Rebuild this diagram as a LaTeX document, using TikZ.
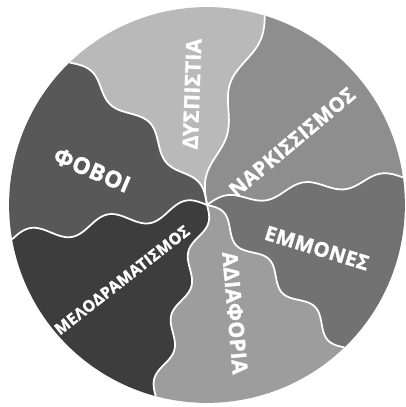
\documentclass[tikz,border=0pt]{standalone}
\usepackage{fontspec}
\setmainfont{Open Sans}
\usepackage{tikz}

\definecolor{fovoi}{HTML}{585858}
\definecolor{dyspistia}{HTML}{B9B9B9}
\definecolor{narkissismos}{HTML}{8E8E8E}
\definecolor{emmones}{HTML}{727272}
\definecolor{adiaforia}{HTML}{9D9D9D}
\definecolor{melodrama}{HTML}{3D3D3D}

% wavy seam from the hub: domain, angle, wave amplitude, half waves, bow
\newcommand{\seam}[5]{%
  -- plot[domain=#1, samples=90, smooth, variable=\t]
    ({\t*198*cos(#2)-(#3*sin(#4*180*\t)+#5*sin(180*\t))*sin(#2)},
     {\t*198*sin(#2)+(#3*sin(#4*180*\t)+#5*sin(180*\t))*cos(#2)})}

\begin{document}
\begin{tikzpicture}
        [ scale=0.02
        , tag/.style={text=white, font=\fontsize{#1}{#1}\selectfont\bfseries\addfontfeature{LetterSpace=2,FakeBold=1.5}}
        , seamline/.style={draw=white, line width=1pt}
        ]
        \useasboundingbox (-207,-202) rectangle (199,205);

        % sectors
        \fill[narkissismos] (0,0) \seam{0:1}{8}{6}{5}{3}
            arc[start angle=8, end angle=73, radius=198] \seam{1:0}{73}{6}{4}{8} -- cycle;
        \fill[dyspistia] (0,0) \seam{0:1}{73}{6}{4}{8}
            arc[start angle=73, end angle=134, radius=198] \seam{1:0}{134}{-7}{5}{-9} -- cycle;
        \fill[fovoi] (0,0) \seam{0:1}{134}{-7}{5}{-9}
            arc[start angle=134, end angle=190, radius=198] \seam{1:0}{190}{-8}{5}{0} -- cycle;
        \fill[melodrama] (0,0) \seam{0:1}{190}{-8}{5}{0}
            arc[start angle=190, end angle=255, radius=198] \seam{1:0}{255}{6}{6}{0} -- cycle;
        \fill[adiaforia] (0,0) \seam{0:1}{255}{6}{6}{0}
            arc[start angle=255, end angle=314, radius=198] \seam{1:0}{314}{7}{6}{0} -- cycle;
        \fill[emmones] (0,0) \seam{0:1}{314}{7}{6}{0}
            arc[start angle=314, end angle=368, radius=198] \seam{1:0}{8}{6}{5}{3} -- cycle;

        % white seams
        \foreach \ang/\amp/\hw/\bw in {8/6/5/3, 73/6/4/8, 134/-7/5/-9, 190/-8/5/0, 255/6/6/0, 314/7/6/0}
            \draw[seamline] (0,0) \seam{0:1}{\ang}{\amp}{\hw}{\bw};

        % labels
        \node[tag=13, rotate=-23] (fobos) at (-115,35) {ΦΟΒΟΙ};
        \node[tag=12, rotate=88] (dysp) at (-15,111) {ΔΥΣΠΙΣΤΙΑ};
        \node[tag=11.5, rotate=40] (nark) at (85,63) {ΝΑΡΚΙΣΣΙΣΜΟΣ};
        \node[tag=11.5, rotate=-17] (emm) at (110,-43) {ΕΜΜΟΝΕΣ};
        \node[tag=12, rotate=-85] (adiaf) at (28,-108) {ΑΔΙΑΦΟΡΙΑ};
        \node[tag=9, rotate=38] (melo) at (-85,-75) {ΜΕΛΟΔΡΑΜΑΤΙΣΜΟΣ};
\end{tikzpicture}
\end{document}
